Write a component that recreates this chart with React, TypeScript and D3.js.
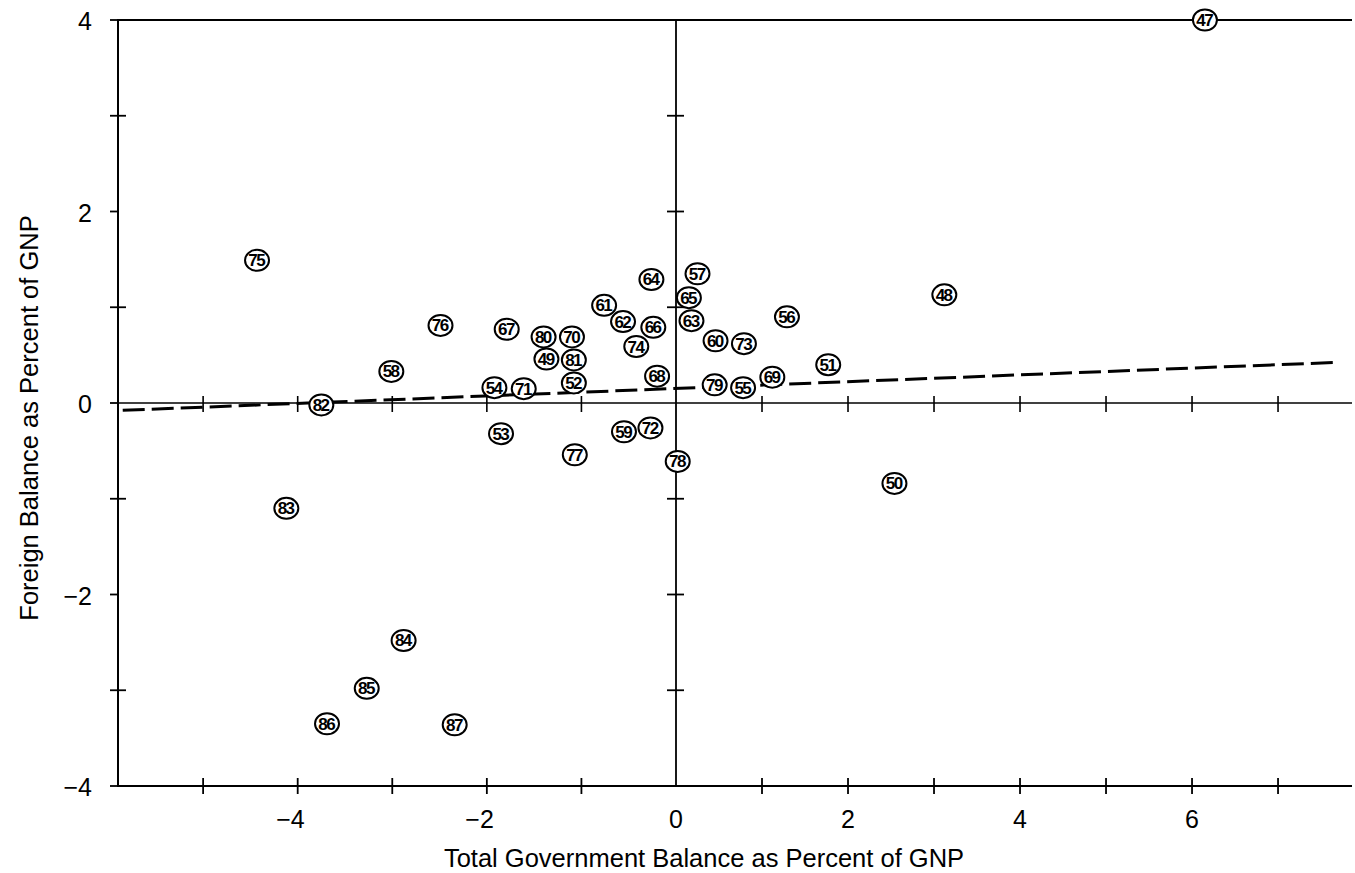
import React, { useEffect, useRef } from "react";
import * as d3 from "d3";

// year labels (19xx) and the two balances
const years = [
  "47", "48", "49", "50", "51", "52", "53", "54", "55", "56", "57", "58", "59", "60",
  "61", "62", "63", "64", "65", "66", "67", "68", "69", "70", "71", "72", "73", "74",
  "75", "76", "77", "78", "79", "80", "81", "82", "83", "84", "85", "86", "87",
];
const govBalance = [
  6.15, 3.12, -1.37, 2.54, 1.77, -1.08, -1.85, -1.92, 0.78, 1.29, 0.25, -3.01, -0.55, 0.46,
  -0.76, -0.56, 0.18, -0.26, 0.15, -0.24, -1.79, -0.2, 1.12, -1.1, -1.61, -0.27, 0.79, -0.42,
  -4.43, -2.49, -1.07, 0.02, 0.45, -1.4, -1.08, -3.75, -4.12, -2.88, -3.27, -3.69, -2.34,
];
const foreignBalance = [
  4.0, 1.13, 0.46, -0.84, 0.4, 0.21, -0.32, 0.16, 0.16, 0.9, 1.35, 0.33, -0.3, 0.65,
  1.02, 0.85, 0.86, 1.29, 1.1, 0.79, 0.77, 0.28, 0.27, 0.69, 0.15, -0.26, 0.62, 0.59,
  1.49, 0.81, -0.54, -0.61, 0.19, 0.69, 0.45, -0.02, -1.1, -2.48, -2.98, -3.35, -3.36,
];

const xTickValues = [-5, -4, -3, -2, -1, 1, 2, 3, 4, 5, 6, 7];
const xLabelValues = [-4, -2, 0, 2, 4, 6];
const yLabelValues = [4, 2, 0, -2, -4];
const yMinorValues = [3, 1, -1, -3];
const yZeroTicks = [3, 2, 1, -1, -2, -3];

// fitted line: foreign = a + b * gov
const fitIntercept = 0.14;
const fitSlope = 0.037;
const fitRange = [-5.85, 7.69];

const fmt = (v: number) => (v < 0 ? "\u2212" + Math.abs(v) : String(v));

const App = () => {
  const ref = useRef<SVGSVGElement>(null);

  useEffect(() => {
    const svg = d3.select(ref.current);
    svg.selectAll("*").remove();

    const left = 118, right = 1352, top = 20, bottom = 786;
    const font = "'Liberation Sans', Arial, Helvetica, sans-serif";

    // scanned original is slightly stretched left of zero
    const x = d3.scaleLinear().domain([-5.9, 0, 7.86]).range([left, 676, right]);
    const y = d3.scaleLinear().domain([-4, 4]).range([bottom, top]);

    const g = svg.append("g");
    const line = (x1, y1, x2, y2, w = 1.8) =>
      g.append("line")
        .attr("x1", x1).attr("y1", y1).attr("x2", x2).attr("y2", y2)
        .attr("stroke", "#000").attr("stroke-width", w);

    // frame (left, top, bottom) and zero axes
    line(left, top - 1, left, bottom + 1, 2);
    line(left, top, right, top, 2);
    line(left, bottom, right, bottom, 2);
    line(left, y(0), right, y(0), 1.6);
    line(x(0), top, x(0), bottom, 1.8);

    xTickValues.forEach((v) => {
      line(x(v), bottom - 8, x(v), bottom + 8, 1.8);
      line(x(v), y(0) - 7, x(v), y(0) + 9, 1.6);
    });
    yMinorValues.forEach((v) => line(left - 8, y(v), left + 8, y(v), 1.8));
    yLabelValues.forEach((v) => line(left - 8, y(v), left, y(v), 1.8));
    yZeroTicks.forEach((v) => line(x(0) - 9, y(v), x(0) + 8, y(v), 1.8));

    // tick labels
    xLabelValues.forEach((v) => {
      g.append("text")
        .attr("x", x(v) + 7)
        .attr("y", 828)
        .attr("text-anchor", "end")
        .attr("font-family", font)
        .attr("font-size", "25px")
        .text(fmt(v));
    });
    yLabelValues.forEach((v) => {
      g.append("text")
        .attr("x", 92)
        .attr("y", y(v) + 10)
        .attr("text-anchor", "end")
        .attr("font-family", font)
        .attr("font-size", "25px")
        .text(fmt(v));
    });

    // axis titles
    g.append("text")
      .attr("x", 704)
      .attr("y", 867)
      .attr("text-anchor", "middle")
      .attr("font-family", font)
      .attr("font-size", "25.5px")
      .text("Total Government Balance as Percent of GNP");
    g.append("text")
      .attr("transform", "translate(38,418) rotate(-90)")
      .attr("text-anchor", "middle")
      .attr("font-family", font)
      .attr("font-size", "25.5px")
      .text("Foreign Balance as Percent of GNP");

    // dashed fitted line
    g.append("line")
      .attr("x1", x(fitRange[0]))
      .attr("y1", y(fitIntercept + fitSlope * fitRange[0]))
      .attr("x2", x(fitRange[1]))
      .attr("y2", y(fitIntercept + fitSlope * fitRange[1]))
      .attr("stroke", "#000")
      .attr("stroke-width", 3)
      .attr("stroke-dasharray", "22 7");

    // circled year markers
    const pts = years.map((yr, i) => ({ yr, gx: govBalance[i], fy: foreignBalance[i] }));
    const marks = g.selectAll("g.pt")
      .data(pts)
      .join("g")
      .attr("class", "pt")
      .attr("transform", (d) => `translate(${x(d.gx)},${y(d.fy)})`);
    marks.append("ellipse")
      .attr("rx", 12)
      .attr("ry", 10.5)
      .attr("fill", "#fff")
      .attr("stroke", "#000")
      .attr("stroke-width", 2);
    marks.append("text")
      .attr("text-anchor", "middle")
      .attr("y", 6)
      .attr("font-family", font)
      .attr("font-size", "17px")
      .attr("font-weight", "bold")
      .attr("letter-spacing", "-1.6px")
      .attr("dx", "-0.8")
      .text((d) => d.yr);
  }, []);

  return (
    <svg
      ref={ref}
      width={1355}
      height={873}
      style={{ position: "absolute", left: 0, top: 0, background: "#fff" }}
    />
  );
};

export default App;
